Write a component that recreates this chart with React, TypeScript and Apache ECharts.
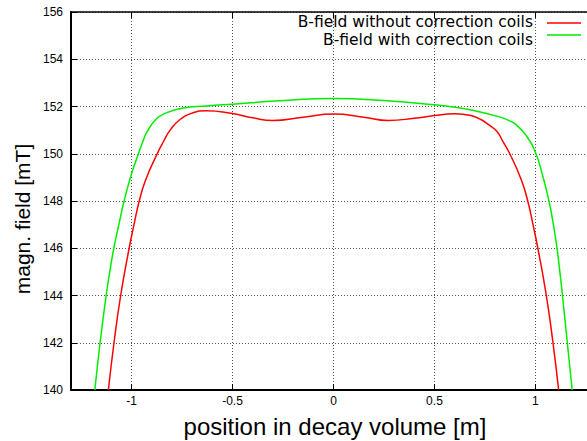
import React, { useEffect, useRef } from "react";
import * as echarts from "echarts";

// Field profile along the decay volume, without correction coils
const posUncorrected = [-1.115, -1.087, -1.054, -1.012, -0.988, -0.962, -0.93, -0.873, -0.84, -0.809, -0.76, -0.7, -0.63, -0.5, -0.4, -0.3, -0.15, 0, 0.15, 0.27, 0.4, 0.5, 0.6, 0.68, 0.73, 0.77, 0.809, 0.84, 0.873, 0.93, 0.962, 0.988, 1.012, 1.054, 1.087, 1.115];
const fieldUncorrected = [140, 142, 144, 146, 147, 148, 148.9, 150, 150.55, 151.0, 151.45, 151.72, 151.82, 151.7, 151.52, 151.41, 151.55, 151.68, 151.55, 151.41, 151.5, 151.62, 151.69, 151.62, 151.45, 151.22, 150.95, 150.5, 150.0, 148.9, 148, 147, 146, 144, 142, 140];

// Field profile with correction coils
const posCorrected = [-1.182, -1.156, -1.126, -1.108, -1.088, -1.063, -1.037, -1.0, -0.966, -0.945, -0.925, -0.88, -0.83, -0.75, -0.63, -0.5, -0.265, 0, 0.264, 0.5, 0.6, 0.7, 0.826, 0.87, 0.904, 0.95, 0.995, 1.035, 1.067, 1.089, 1.107, 1.121, 1.134, 1.158, 1.182];
const fieldCorrected = [140, 142, 144, 145, 146, 147, 148, 149.15, 150, 150.5, 150.9, 151.45, 151.72, 151.93, 152.02, 152.1, 152.24, 152.34, 152.24, 152.07, 151.97, 151.82, 151.55, 151.4, 151.23, 150.82, 150.17, 149.1, 148, 147, 146, 145, 144, 142, 140];

const seriesNames = ["B-field without correction coils", "B-field with correction coils"];
const seriesColors = ["#ff0000", "#00ee00"];

const xRange = [-1.3, 1.3];
const yRange = [140, 156];
const yStep = 2;

const xTitle = "position in decay volume [m]";
const yTitle = "magn. field [mT]";

const zip = (xs: number[], ys: number[]) => xs.map((x, i) => [x, ys[i]]);

export default function App() {
  const ref = useRef<HTMLDivElement>(null);

  useEffect(() => {
    if (!ref.current) return;
    const chart = echarts.init(ref.current, null, { renderer: "svg" });

    const tickFont = { fontFamily: "Liberation Sans", fontSize: 12, color: "#000" };
    const grid = {
      lineStyle: { color: "#555", width: 1, type: [1, 2] as number[] },
    };

    chart.setOption({
      animation: false,
      backgroundColor: "#fff",
      // the plot runs on past the right edge of the visible page
      grid: { left: 71, top: 12, bottom: 51, right: 0, containLabel: false },
      xAxis: [
        {
          type: "value",
          min: xRange[0],
          max: xRange[1],
          splitNumber: 5,
          axisLine: { show: true, onZero: false, lineStyle: { color: "#000", width: 2 } },
          axisTick: { show: true, inside: true, length: 6, lineStyle: { color: "#000" } },
          axisLabel: { ...tickFont, margin: 5, showMinLabel: false, showMaxLabel: false },
          splitLine: { show: true, ...grid },
        },
        {
          type: "value",
          position: "top",
          min: xRange[0],
          max: xRange[1],
          splitNumber: 5,
          axisLine: { show: true, onZero: false, lineStyle: { color: "#000", width: 1.5 } },
          axisTick: { show: true, inside: true, length: 6, lineStyle: { color: "#000" } },
          axisLabel: { show: false },
          splitLine: { show: false },
        },
      ],
      yAxis: {
        type: "value",
        min: yRange[0],
        max: yRange[1],
        interval: yStep,
        axisLine: { show: true, onZero: false, lineStyle: { color: "#000", width: 2 } },
        axisTick: { show: true, inside: true, length: 6, lineStyle: { color: "#000" } },
        axisLabel: { ...tickFont, margin: 8 },
        splitLine: { show: true, ...grid },
      },
      series: [
        {
          name: seriesNames[0],
          type: "line",
          data: zip(posUncorrected, fieldUncorrected),
          smooth: 0.5,
          showSymbol: false,
          lineStyle: { color: seriesColors[0], width: 1.5 },
          z: 3,
        },
        {
          name: seriesNames[1],
          type: "line",
          data: zip(posCorrected, fieldCorrected),
          smooth: 0.5,
          showSymbol: false,
          lineStyle: { color: seriesColors[1], width: 1.5 },
          z: 2,
        },
      ],
      graphic: [
        {
          type: "text",
          x: 533,
          y: 22,
          style: {
            text: seriesNames[0],
            textAlign: "right",
            textVerticalAlign: "middle",
            font: '15.5px "DejaVu Sans"',
            fill: "#000",
          },
        },
        {
          type: "text",
          x: 533,
          y: 40,
          style: {
            text: seriesNames[1],
            textAlign: "right",
            textVerticalAlign: "middle",
            font: '15.5px "DejaVu Sans"',
            fill: "#000",
          },
        },
        {
          type: "line",
          shape: { x1: 547, y1: 23, x2: 581, y2: 23 },
          style: { stroke: seriesColors[0], lineWidth: 1.5 },
        },
        {
          type: "line",
          shape: { x1: 547, y1: 35, x2: 581, y2: 35 },
          style: { stroke: seriesColors[1], lineWidth: 1.5 },
        },
        {
          type: "text",
          x: 335,
          y: 426,
          style: {
            text: xTitle,
            textAlign: "center",
            textVerticalAlign: "middle",
            font: '24px "Liberation Sans"',
            fill: "#000",
          },
        },
        {
          type: "text",
          x: 22,
          y: 219,
          rotation: Math.PI / 2,
          style: {
            text: yTitle,
            textAlign: "center",
            textVerticalAlign: "middle",
            font: '21px "Liberation Sans"',
            fill: "#000",
          },
        },
      ],
    });

    return () => chart.dispose();
  }, []);

  return (
    <div
      ref={ref}
      style={{ position: "fixed", left: 0, top: 0, width: 596, height: 441, background: "#fff" }}
    />
  );
}
